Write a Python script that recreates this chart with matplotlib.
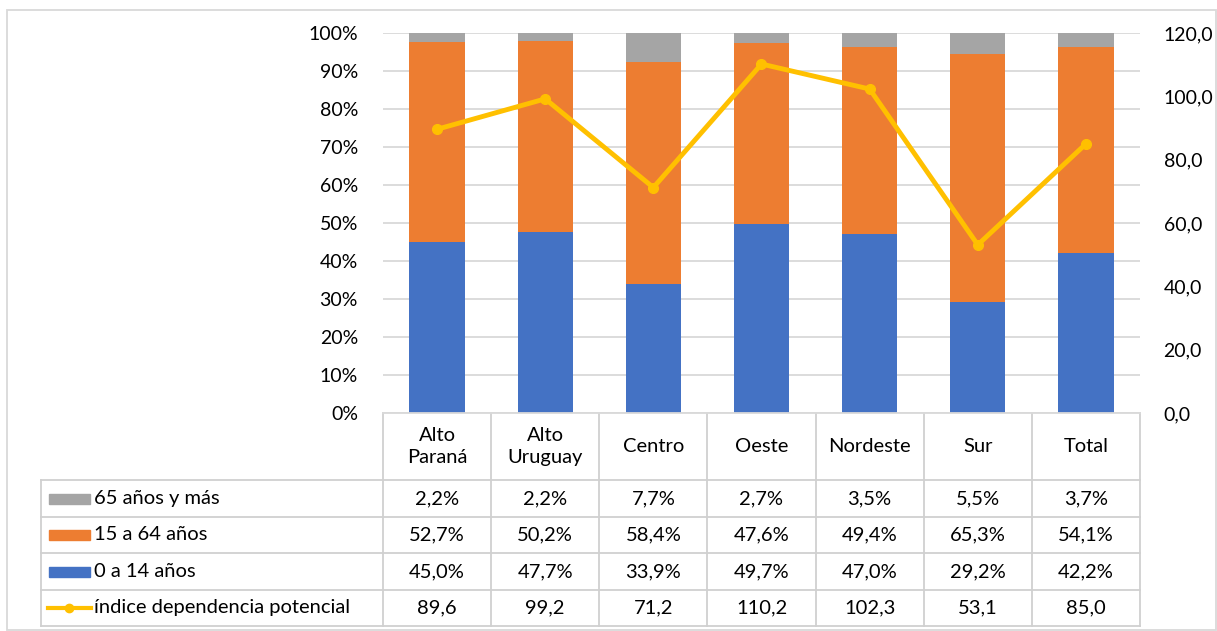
import matplotlib.pyplot as plt
import numpy as np
from matplotlib.patches import Rectangle
from matplotlib.lines import Line2D

regions = ['Alto\nParaná', 'Alto\nUruguay', 'Centro', 'Oeste', 'Nordeste', 'Sur', 'Total']
age_0_14 = [45.0, 47.7, 33.9, 49.7, 47.0, 29.2, 42.2]
age_15_64 = [52.7, 50.2, 58.4, 47.6, 49.4, 65.3, 54.1]
age_65 = [2.2, 2.2, 7.7, 2.7, 3.5, 5.5, 3.7]
dep_index = [89.6, 99.2, 71.2, 110.2, 102.3, 53.1, 85.0]

c_blue = '#4472C4'
c_orange = '#ED7D31'
c_gray = '#A5A5A5'
c_gold = '#FFC000'
c_grid = '#D9D9D9'

plt.rcParams['font.family'] = ['Lato', 'DejaVu Sans']
fs = 14.5
fs_tick = 14

W, H = 1217, 631
fig = plt.figure(figsize=(W / 100, H / 100), dpi=100)

# pixel layout of the plot area
px_left, px_right, px_top, px_bottom = 383, 1140, 33, 413
ax = fig.add_axes([px_left / W, 1 - px_bottom / H, (px_right - px_left) / W, (px_bottom - px_top) / H])

x = np.arange(len(regions))
b0 = np.array(age_0_14) / 100
b1 = np.array(age_15_64) / 100
b2 = np.array(age_65) / 100
bw = 0.51
ax.bar(x, b0, bw, color=c_blue, zorder=2)
ax.bar(x, b1, bw, bottom=b0, color=c_orange, zorder=2)
ax.bar(x, b2, bw, bottom=b0 + b1, color=c_gray, zorder=2)

ax.set_xlim(-0.5, len(regions) - 0.5)
ax.set_ylim(0, 1)
ax.set_yticks(np.arange(0, 1.01, 0.1))
ax.set_yticklabels([f'{int(round(v * 100))}%' for v in np.arange(0, 1.01, 0.1)], fontsize=fs_tick)
ax.grid(axis='y', color=c_grid, linewidth=1.3, zorder=0)
ax.set_xticks([])
ax.tick_params(axis='y', length=0, pad=18)
for s in ['top', 'right', 'left']:
    ax.spines[s].set_visible(False)
ax.spines['bottom'].set_color(c_grid)
ax.spines['bottom'].set_linewidth(1.3)

ax2 = ax.twinx()
ax2.plot(x, dep_index, color=c_gold, linewidth=3.5, marker='o', markersize=7, zorder=3)
ax2.set_ylim(0, 120)
ax2.set_yticks(np.arange(0, 121, 20))
ax2.set_yticklabels([f'{v:.1f}'.replace('.', ',') for v in np.arange(0, 121, 20)], fontsize=fs_tick)
ax2.tick_params(axis='y', length=0, pad=17)
for s in ['top', 'right', 'left', 'bottom']:
    ax2.spines[s].set_visible(False)

# data table drawn in pixel coordinates
tab = fig.add_axes([0, 0, 1, 1], zorder=-1)
tab.set_xlim(0, W)
tab.set_ylim(H, 0)
tab.axis('off')

tc = '#D0D0D0'
col_w = (px_right - px_left) / len(regions)
rows_y = [480, 517, 553, 590, 626]
tab_left = 41

# outer border of the chart
tab.add_patch(Rectangle((7, 10), W - 8, H - 11, fill=False, edgecolor=c_grid, linewidth=1.3))

for i in range(len(regions) + 1):
    xv = px_left + i * col_w
    tab.add_line(Line2D([xv, xv], [px_bottom, rows_y[-1]], color=tc, linewidth=1.3))
tab.add_line(Line2D([tab_left, tab_left], [rows_y[0], rows_y[-1]], color=tc, linewidth=1.3))
for yv in rows_y:
    tab.add_line(Line2D([tab_left, px_right], [yv, yv], color=tc, linewidth=1.3))

for i, r in enumerate(regions):
    tab.text(px_left + (i + 0.5) * col_w, (px_bottom + rows_y[0]) / 2, r, ha='center', va='center',
             fontsize=fs, linespacing=1.35)

series = [
    ('65 años y más', age_65, c_gray, 'bar'),
    ('15 a 64 años', age_15_64, c_orange, 'bar'),
    ('0 a 14 años', age_0_14, c_blue, 'bar'),
    ('índice dependencia potencial', dep_index, c_gold, 'line'),
]
for k, (name, vals, col, kind) in enumerate(series):
    yc = (rows_y[k] + rows_y[k + 1]) / 2
    if kind == 'bar':
        tab.add_patch(Rectangle((49, yc - 5), 41, 10, color=col))
        txt = [f'{v:.1f}%'.replace('.', ',') for v in vals]
    else:
        tab.add_line(Line2D([48, 91], [yc, yc], color=col, linewidth=3))
        tab.plot([69], [yc], marker='o', color=col, markersize=6)
        txt = [f'{v:.1f}'.replace('.', ',') for v in vals]
    tab.text(94, yc, name, ha='left', va='center', fontsize=fs)
    for i, t in enumerate(txt):
        tab.text(px_left + (i + 0.5) * col_w, yc, t, ha='center', va='center', fontsize=fs)

fig.savefig('out.png', dpi=100)
